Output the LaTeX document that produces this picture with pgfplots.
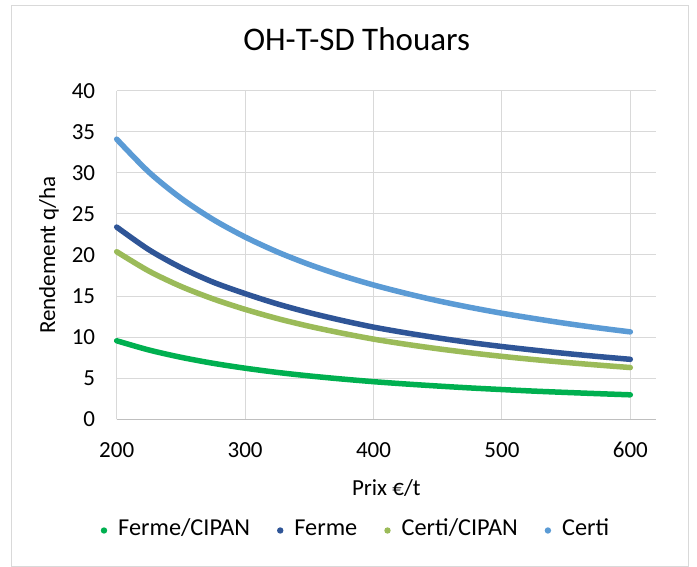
\documentclass[border=0pt]{standalone}
\usepackage{pgfplots}
\pgfplotsset{compat=1.18}
\usepackage{fontspec}
\setmainfont{Carlito}
\definecolor{cFC}{HTML}{00B050}
\definecolor{cF}{HTML}{2F5597}
\definecolor{cCC}{HTML}{9BBB59}
\definecolor{cC}{HTML}{5B9BD5}
\definecolor{gridc}{HTML}{D9D9D9}
\definecolor{axc}{HTML}{BFBFBF}
\newcommand{\fs}{\fontsize{23bp}{27bp}\selectfont}
\newcommand{\fl}{\fontsize{24.3bp}{28bp}\selectfont}
\begin{document}
\begin{tikzpicture}[x=1bp,y=1bp]
\useasboundingbox (-116.7,-147.7) rectangle (580.3,419.3);
\fill[white] (-116.7,-147.7) rectangle (580.3,419.3);
\draw[gridc, line width=1bp] (-104.7,-146.7) rectangle (571.3,413.3);
\begin{axis}[
  at={(0,0)}, anchor=south west,
  scale only axis, width=539.3bp, height=328.6bp,
  xmin=200, xmax=620, ymin=0, ymax=40,
  xtick={200,300,400,500,600},
  ytick={0,5,10,15,20,25,30,35,40},
  axis x line*=bottom, axis y line*=left,
  x axis line style={axc, line width=1.5bp, -},
  y axis line style={gridc, line width=1bp, -},
  major tick length=0pt,
  grid=major,
  major grid style={gridc, line width=1bp},
  clip=false,
  /pgf/number format/assume math mode=true,
  tick label style={font=\fs, text=black},
  xticklabel style={anchor=base, inner sep=0pt, yshift=-38bp},
  yticklabel style={anchor=east, inner sep=0pt, xshift=-21.4bp},
  title={OH-T-SD Thouars},
  title style={font=\fontsize{33bp}{38bp}\selectfont, at={(axis description cs:0.445,1.1035)}, anchor=base, inner sep=0pt},
  xlabel={Prix €/t},
  xlabel style={font=\fs, at={(axis description cs:0.5,-0.2304)}, anchor=base, inner sep=0pt},
  ylabel={Rendement q/ha},
  ylabel style={font=\fs, at={(axis description cs:-0.1144,0.5)}, anchor=base, inner sep=0pt},
  legend columns=4,
  legend image code/.code={\fill[#1, draw=none] (0bp,0bp) circle (3.2bp);},
  legend style={draw=none, fill=none, font=\fl,
    at={(axis description cs:0.4437,-0.3384)}, anchor=center,
    nodes={text height=16bp, text depth=5bp},
    /tikz/every even column/.append style={column sep=25bp},
    /tikz/every odd column/.append style={column sep=9bp}},
  every axis plot/.append style={line width=5.5bp, line cap=round, line join=round, mark=none, smooth, tension=0.5},
]
\addplot[cFC] coordinates {
(200,9.56) (225,8.44) (250,7.55) (275,6.82) (300,6.22) (325,5.71) (350,5.28) (375,4.91) (400,4.58)
(425,4.30) (450,4.05) (475,3.82) (500,3.62) (525,3.43) (550,3.27) (575,3.12) (600,2.98)};
\addlegendentry{Ferme/CIPAN}
\addplot[cF] coordinates {
(200,23.40) (225,20.65) (250,18.47) (275,16.70) (300,15.30) (325,14.05) (350,12.98) (375,12.05) (400,11.22)
(425,10.53) (450,9.91) (475,9.35) (500,8.86) (525,8.42) (550,8.01) (575,7.64) (600,7.30)};
\addlegendentry{Ferme}
\addplot[cCC] coordinates {
(200,20.40) (225,18.05) (250,16.18) (275,14.66) (300,13.38) (325,12.27) (350,11.32) (375,10.50) (400,9.76)
(425,9.14) (450,8.59) (475,8.10) (500,7.66) (525,7.27) (550,6.92) (575,6.60) (600,6.30)};
\addlegendentry{Certi/CIPAN}
\addplot[cC] coordinates {
(200,34.10) (225,30.10) (250,26.92) (275,24.33) (300,22.19) (325,20.38) (350,18.84) (375,17.51) (400,16.35)
(425,15.34) (450,14.43) (475,13.63) (500,12.91) (525,12.27) (550,11.67) (575,11.13) (600,10.64)};
\addlegendentry{Certi}
\end{axis}
\end{tikzpicture}
\end{document}
